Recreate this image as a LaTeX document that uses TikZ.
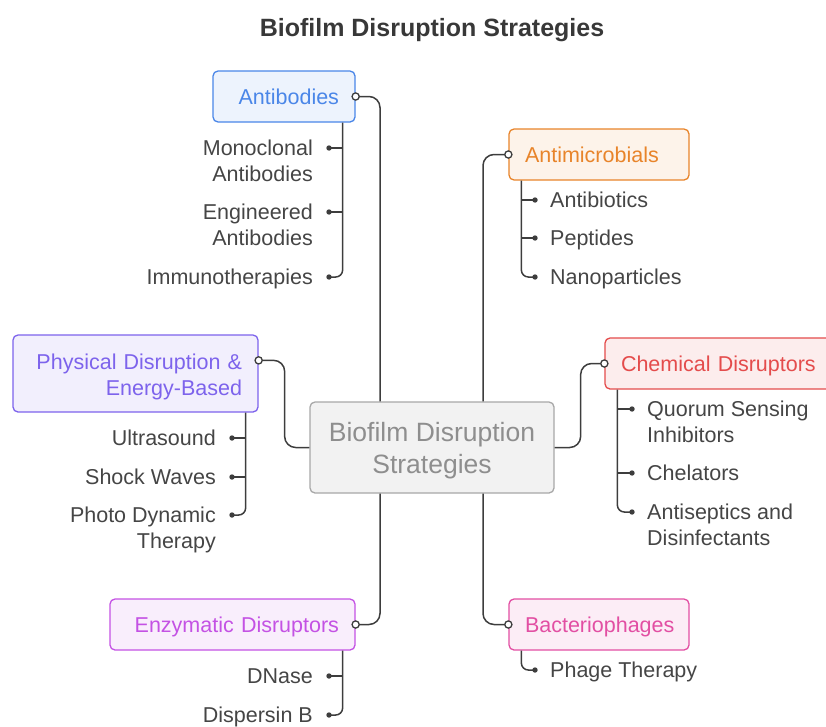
\documentclass[tikz,border=0pt]{standalone}
\usepackage{fontspec}
\setmainfont{Liberation Sans}
\usetikzlibrary{calc}
\definecolor{bdInk}{HTML}{3D3D3D}
\definecolor{bdText}{HTML}{454545}
\definecolor{bdTitle}{HTML}{383838}
\definecolor{bdCoreLine}{HTML}{A8A8A8}
\definecolor{bdCoreFill}{HTML}{F2F2F2}
\definecolor{bdCoreText}{HTML}{8E8E8E}
\definecolor{bdBlue}{HTML}{4A86E8}
\definecolor{bdOrange}{HTML}{E8842A}
\definecolor{bdViolet}{HTML}{7D63EC}
\definecolor{bdRed}{HTML}{E44C4C}
\definecolor{bdOrchid}{HTML}{C452E4}
\definecolor{bdPink}{HTML}{E24FA3}
\newcommand{\bdfont}{\fontsize{21.5}{26}\selectfont}
\newcommand{\bdcorefont}{\fontsize{26.5}{32}\selectfont}
\newcommand{\bdstrut}{\rule[-6pt]{0pt}{27.5pt}}
\tikzset{
  bdcat/.style={
    draw=#1, fill=#1!10, text=#1, line width=1.3pt, rounded corners=5pt,
    font=\bdfont, inner xsep=16pt, inner ysep=0pt, minimum height=51pt,
  },
  bdcore/.style={
    draw=bdCoreLine, fill=bdCoreFill, text=bdCoreText, line width=1.3pt,
    rounded corners=5pt, font=\bdcorefont, align=center,
    minimum width=244pt, minimum height=91pt,
  },
  bdleaf/.style={text=bdText, font=\bdfont, inner sep=0pt},
  bdlink/.style={draw=bdInk, line width=1.5pt, rounded corners=11pt},
  bdtwig/.style={draw=bdInk, line width=1.5pt, rounded corners=7pt},
}

\begin{document}
\begin{tikzpicture}[x=1pt, y=-1pt]
\useasboundingbox (0,0) rectangle (826,726);

\node[font=\fontsize{25}{30}\selectfont\bfseries, text=bdTitle] (title) at (432,30)
  {Biofilm Disruption Strategies};

% Core and categories ------------------------------------------------------
\node[bdcore] (core) at (432,447.5) {\rule{0pt}{26pt}Biofilm Disruption\\Strategies};

\node[bdcat=bdBlue, text width=110pt, align=right] (ab) at (284,96.5) {\bdstrut Antibodies};
\node[bdcat=bdOrange, text width=148pt, align=left] (am) at (599,154.5) {\bdstrut Antimicrobials};
\node[bdcat=bdViolet, text width=213pt, align=right, minimum height=77pt] (pd)
  at (135.5,373.5) {\rule{0pt}{22pt}Physical Disruption \&\\Energy-Based};
\node[bdcat=bdRed, text width=208pt, align=left] (cd) at (725,363.5) {\bdstrut Chemical Disruptors};
\node[bdcat=bdOrchid, text width=213pt, align=right] (ed) at (232.5,624.5) {\bdstrut Enzymatic Disruptors};
\node[bdcat=bdPink, text width=148pt, align=left] (bp) at (599,624.5) {\bdstrut Bacteriophages};

\coordinate (pdj) at ($(pd.north east)+(0,26)$);

% Leaves (dot sits on the first line) --------------------------------------
\foreach \n/\x/\y/\t in {ab1/313/148/{Monoclonal\\Antibodies}, ab2/313/212/{Engineered\\Antibodies},
    ab3/313/277/Immunotherapies, pd1/216/438/Ultrasound, pd2/216/477/Shock Waves,
    pd3/216/515/{Photo Dynamic\\Therapy}, ed1/313/676/DNase, ed2/313/715/Dispersin B}{%
  \node[bdleaf, align=right, anchor=north east] (\n) at (\x,\y-8) {\t};
  \coordinate (\n d) at ($(\n.north east)+(16,8)$);
}
\foreach \n/\x/\y/\t in {am1/550/200/Antibiotics, am2/550/238/Peptides, am3/550/277/Nanoparticles,
    cd1/647/409/{Quorum Sensing\\Inhibitors}, cd2/647/473/Chelators,
    cd3/647/512/{Antiseptics and\\Disinfectants}, bp1/550/670/Phage Therapy}{%
  \node[bdleaf, align=left, anchor=north west] (\n) at (\x,\y-8) {\t};
  \coordinate (\n d) at ($(\n.north west)+(-15,8)$);
}

% Twigs --------------------------------------------------------------------
\coordinate (abT) at ($(ab.south east)+(-13,0)$);
\coordinate (pdT) at ($(pd.south east)+(-13,0)$);
\coordinate (edT) at ($(ed.south east)+(-13,0)$);
\coordinate (amT) at ($(am.south west)+(13,0)$);
\coordinate (cdT) at ($(cd.south west)+(13,0)$);
\coordinate (bpT) at ($(bp.south west)+(13,0)$);

\foreach \c/\last in {ab/ab3, pd/pd3, ed/ed2, am/am3, cd/cd3, bp/bp1}{%
  \draw[bdtwig] (\c T) |- (\last d);
}
\foreach \leaf/\c in {ab1/ab, ab2/ab, pd1/pd, pd2/pd, ed1/ed, am1/am, am2/am, cd1/cd, cd2/cd}{%
  \draw[bdtwig] (\leaf d -| \c T) -- (\leaf d);
}
\foreach \leaf in {ab1, ab2, ab3, pd1, pd2, pd3, ed1, ed2, am1, am2, am3, cd1, cd2, cd3, bp1}{%
  \fill[bdInk] (\leaf d) circle (2.7);
}

% Links from the core ------------------------------------------------------
\draw[bdlink] ($(core.north)+(-52,0)$) |- (ab.east);
\draw[bdlink] ($(core.north)+(51,0)$) |- (am.west);
\draw[bdlink] (pdj) -- ++(26,0) |- (core.west);
\draw[bdlink] (core.east) -- ++(26,0) |- (cd.west);
\draw[bdlink] ($(core.south)+(-52,0)$) |- (ed.east);
\draw[bdlink] ($(core.south)+(51,0)$) |- (bp.west);

\foreach \p in {ab.east, am.west, pdj, cd.west, ed.east, bp.west}{%
  \draw[bdInk, fill=white, line width=1.3pt] (\p) circle (3.6);
}

\end{tikzpicture}
\end{document}
